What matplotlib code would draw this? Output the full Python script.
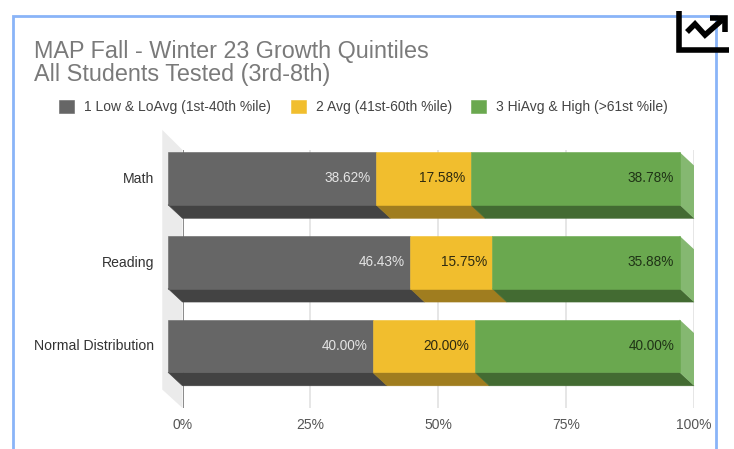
import numpy as np
import matplotlib
matplotlib.use("Agg")
import matplotlib.pyplot as plt
from matplotlib.lines import Line2D
from matplotlib.patches import Rectangle

plt.rcParams["font.family"] = ["Liberation Sans", "DejaVu Sans"]

TITLE = "MAP Fall - Winter 23 Growth Quintiles\nAll Students Tested (3rd-8th)"
categories = ["Math", "Reading", "Normal Distribution"]
series_names = [
    "1 Low & LoAvg (1st-40th %ile)",
    "2 Avg (41st-60th %ile)",
    "3 HiAvg & High (>61st %ile)",
]
low = [38.62, 46.43, 40.00]
avg = [17.58, 15.75, 20.00]
high = [38.78, 35.88, 40.00]
x_ticks = [0, 25, 50, 75, 100]
x_labels = ["0%", "25%", "50%", "75%", "100%"]

face_colors = ["#666666", "#F1BE2E", "#6AA84F"]
side_colors = ["#434343", "#A07D1F", "#436B32"]
end_color = "#85B871"
label_colors = ["#E4E4E4", "#2E2A10", "#1F3316"]

W, H = 734, 449
BAR_H = 0.63
DEPTH_X = 2.83  # 3d depth, data units
DEPTH_Y = 0.161


def fx(px):
    return px / W


def fy(py):
    return 1 - py / H


fig = plt.figure(figsize=(W / 100, H / 100), dpi=100)
ax = fig.add_axes([fx(182.5), fy(408), (694 - 182.5) / W, (408 - 150) / H])
ax.set_xlim(0, 100)
ax.set_ylim(2.58, -0.5)
ax.set_facecolor("none")
for s in ax.spines.values():
    s.set_visible(False)

# back wall and grid
ax.fill([-3.95, 0, 0, -3.95], [-0.74, -0.5, 2.58, 2.36], color="#EBEBEB", clip_on=False, lw=0, zorder=1)
for t in x_ticks:
    ax.axvline(t, color="#777777" if t == 0 else "#E2E2E2", lw=1.2, zorder=1.5)

values = np.array([low, avg, high], dtype=float)
shares = values / values.sum(axis=0) * 100  # 100% stacked
y_pos = np.arange(len(categories))
left = np.zeros(len(categories))
handles = []
for i, name in enumerate(series_names):
    right = left + shares[i]
    for j, y in enumerate(y_pos):
        ax.fill(
            [left[j] - DEPTH_X, right[j] - DEPTH_X, right[j], left[j]],
            [y - DEPTH_Y + BAR_H / 2, y - DEPTH_Y + BAR_H / 2, y + BAR_H / 2, y + BAR_H / 2],
            fc=side_colors[i], ec=side_colors[i], lw=0.4, clip_on=False, zorder=2,
        )
    bars = ax.barh(
        y_pos - DEPTH_Y, shares[i], BAR_H, left=left - DEPTH_X,
        color=face_colors[i], ec=face_colors[i], lw=0.4, label=name, clip_on=False, zorder=3,
    )
    handles.append(bars)
    for j, y in enumerate(y_pos):
        ax.annotate(
            f"{values[i][j]:.2f}%", (right[j] - DEPTH_X, y - DEPTH_Y),
            xytext=(-3.8, 0), textcoords="offset points", ha="right", va="center",
            fontsize=9.8, color=label_colors[i], zorder=4,
        )
    left = right

# right end of the bars
for y in y_pos:
    ax.fill(
        [100 - DEPTH_X, 100, 100, 100 - DEPTH_X],
        [y - DEPTH_Y - BAR_H / 2, y - BAR_H / 2, y + BAR_H / 2, y - DEPTH_Y + BAR_H / 2],
        color=end_color, lw=0, clip_on=False, zorder=2.5,
    )

ax.set_xticks(x_ticks, x_labels, fontsize=10, color="#555555")
ax.set_yticks(y_pos - DEPTH_Y - 0.012, categories, fontsize=10.1, color="#333333")
ax.tick_params(axis="both", length=0)
ax.tick_params(axis="x", pad=7)
ax.tick_params(axis="y", pad=20.5)

fig.text(fx(34), fy(81.5), TITLE, fontsize=16.8, color="#7A7A7A", ha="left", va="baseline", linespacing=1.04)

fig.legend(
    handles=handles, ncol=3, frameon=False, fontsize=10, labelcolor="#444444",
    loc="center left", bbox_to_anchor=(fx(59), fy(107)),
    handlelength=1.08, handleheight=1.08, handletextpad=0.72, columnspacing=1.42, borderpad=0, borderaxespad=0,
)

# frame of the screenshot
fig.add_artist(Rectangle((fx(12.5), fy(470)), (716 - 12.5) / W, (470 - 16) / H,
                         fill=False, ec="#8AB4F8", lw=2, transform=fig.transFigure))
# chart icon in the corner
icon = dict(color="black", lw=4, solid_capstyle="butt", solid_joinstyle="miter", transform=fig.transFigure)
fig.add_artist(Line2D([fx(678.5), fx(678.5), fx(729)], [fy(11), fy(49.5), fy(49.5)], **icon))
fig.add_artist(Line2D([fx(687), fx(695), fx(705), fx(722)], [fy(32), fy(24), fy(35), fy(20)], **icon))
fig.add_artist(Line2D([fx(710), fx(725), fx(725)], [fy(18), fy(18), fy(32)], **icon))

fig.savefig("out.png", dpi=100)
